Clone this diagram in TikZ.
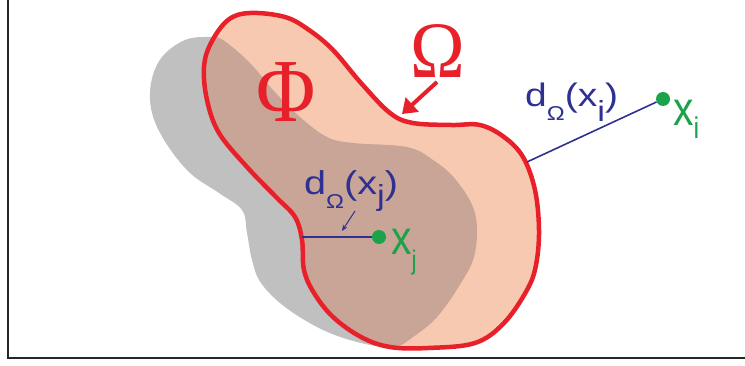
\documentclass[tikz,border=0pt]{standalone}
\usepackage{fontspec}
\setmainfont{Liberation Sans}
\newfontfamily\serifgreek{Liberation Serif}
\usetikzlibrary{arrows.meta}
\definecolor{omred}{HTML}{E8202A}
\definecolor{peach}{HTML}{F8C9B1}
\definecolor{shadowgray}{HTML}{C0C0C0}
\definecolor{overlap}{HTML}{C9A597}
\definecolor{navy}{HTML}{2E3192}
\definecolor{ptgreen}{HTML}{1CA24B}
\def\redpath{plot[smooth cycle, tension=0.6] coordinates {(211,43) (228,20) (250,13) (285,17) (309,30) (333,50) (361,83) (390,113) (413,123) (451,125) (480,125) (504,137) (523,157) (535,190) (539,230) (536,265) (527,290) (504,323) (475,343) (428,348) (390,347) (361,337) (333,317) (314,293) (304,270) (302,240) (295,217) (276,197) (247,167) (219,133) (207,100) (204,67)}}
\def\graypath{plot[smooth cycle, tension=0.6] coordinates {(209,37) (185,40) (162,57) (151,83) (152,113) (166,143) (190,173) (219,193) (242,210) (247,233) (252,260) (261,283) (285,307) (323,330) (361,343) (394,347) (413,337) (437,317) (461,283) (475,253) (475,213) (456,180) (433,160) (407,147) (353,143) (327,137) (300,117) (273,90) (250,63) (223,40)}}
\tikzset{
  frameline/.style={draw=black!85, line width=2.5pt},
  ptdot/.style={circle, fill=ptgreen, minimum size=14pt, inner sep=0pt},
  distline/.style={navy, line width=1.6pt},
  lbl/.style={anchor=base west, inner sep=0pt, navy},
  ptlbl/.style={anchor=base west, inner sep=0pt, ptgreen},
  biglbl/.style={inner sep=0pt, omred},
}
\begin{document}
\begin{tikzpicture}[x=1pt,y=-1pt]
\useasboundingbox (0,0) rectangle (745,366);
\draw[frameline] (8,0) -- (8,358) -- (745,358);
% shapes
\fill[shadowgray] \graypath;
\fill[peach] \redpath;
\begin{scope}
  \clip \redpath;
  \fill[overlap] \graypath;
\end{scope}
\draw[omred, line width=4.5pt] \redpath;
% big labels
\node[biglbl] (phi) at (286,92) {\scalebox{0.9}[1]{\fontsize{90}{90}\serifgreek Φ}};
\node[biglbl] (omega) at (438,51) {\scalebox{0.92}[1]{\fontsize{80}{80}\serifgreek Ω}};
\coordinate (otail) at (437,82);
\coordinate (otip) at (402,114);
\draw[omred, line width=4pt, -{Triangle[length=14pt,width=19pt]}] (otail) -- (otip);
% points
\node[ptdot] (pi) at (663,99) {};
\node[ptdot] (pj) at (379,237) {};
\coordinate (bi) at (527,162);
\coordinate (bj) at (302,237);
\draw[distline] (pi) -- (bi);
\draw[distline] (pj) -- (bj);
% labels
\node[lbl] (li) at (525,107) {\scalebox{1.2}[1]{\fontsize{32.5}{32.5}\selectfont d\raisebox{-14pt}{\fontsize{20}{20}\selectfont Ω}(x\raisebox{-15pt}{\fontsize{29}{29}\selectfont i})}};
\node[lbl] (lj) at (304,195) {\scalebox{1.2}[1]{\fontsize{33}{33}\selectfont d\raisebox{-14pt}{\fontsize{20}{20}\selectfont Ω}(x\raisebox{-11pt}{\fontsize{29}{29}\selectfont j})}};
\coordinate (atail) at (355,211);
\coordinate (atip) at (342,231);
\draw[navy, line width=1pt, -{Stealth[length=6pt,width=5pt]}] (atail) -- (atip);
\node[ptlbl] (xi) at (673,126) {\scalebox{0.85}[1]{\fontsize{48}{48}\selectfont x\raisebox{-13pt}{\fontsize{30}{30}\selectfont i}}};
\node[ptlbl] (xj) at (391,255) {\scalebox{0.85}[1]{\fontsize{48}{48}\selectfont x\raisebox{-15pt}{\fontsize{27}{27}\selectfont j}}};
\end{tikzpicture}
\end{document}
